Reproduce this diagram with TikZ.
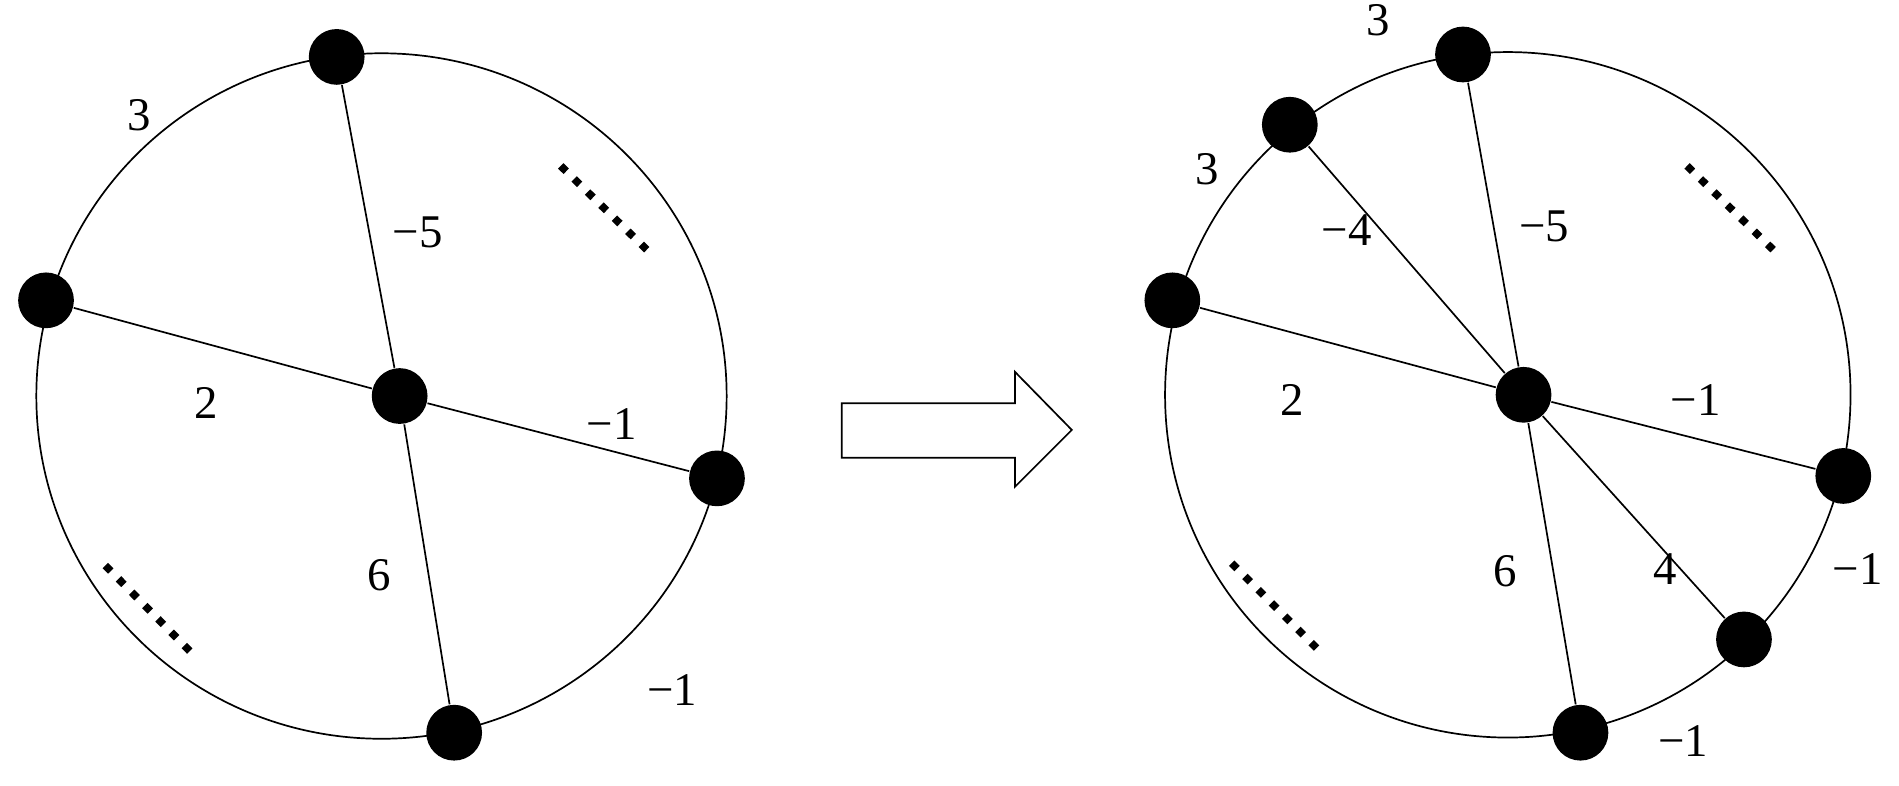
\documentclass[tikz,border=0pt]{standalone}
\usepackage{fontspec}
\setmainfont{Liberation Serif}
\begin{document}
\begin{tikzpicture}[x=0.01cm,y=-0.01cm,
  vtx/.style={circle,fill=black,minimum size=0.46cm,inner sep=0pt},
  lbl/.style={font=\fontsize{11}{13}\selectfont},
  dots/.style={line width=1.8pt,dash pattern=on 1.8pt off 2.6pt},
  edge/.style={line width=0.4pt}]
\useasboundingbox (0,0) rectangle (1568,649);
% left
\draw[edge] (315,327) ellipse [x radius=285, y radius=283];
\node[vtx] (a1) at (278,47) {};
\node[vtx] (a2) at (38,248) {};
\node[vtx] (a0) at (330,327) {};
\node[vtx] (a3) at (592,395) {};
\node[vtx] (a4) at (375,605) {};
\foreach \n in {a1,a2,a3,a4} \draw[edge] (a0) -- (\n);
\node[lbl] (l1) at (115,95) {3};
\node[lbl] (l2) at (345,192) {−5};
\node[lbl] (l3) at (170,333) {2};
\node[lbl] (l4) at (505,350) {−1};
\node[lbl] (l5) at (313,475) {6};
\node[lbl] (l6) at (555,570) {−1};
\coordinate (d1) at (463,137); \coordinate (d2) at (540,212);
\coordinate (d3) at (87,467); \coordinate (d4) at (162,543);
\draw[dots] (d1) -- (d2); \draw[dots] (d3) -- (d4);
% arrow
\draw[edge] (695,333) -- (838,333) -- (838,307) -- (885,355) -- (838,402) -- (838,378) -- (695,378) -- cycle;
% right
\draw[edge] (1245,326) ellipse [x radius=283, y radius=283];
\node[vtx] (b1) at (1208,45) {};
\node[vtx] (b2) at (1065,103) {};
\node[vtx] (b3) at (968,248) {};
\node[vtx] (b0) at (1258,326) {};
\node[vtx] (b4) at (1522,393) {};
\node[vtx] (b5) at (1440,528) {};
\node[vtx] (b6) at (1305,605) {};
\foreach \n in {b1,b2,b3,b4,b5,b6} \draw[edge] (b0) -- (\n);
\node[lbl] (m1) at (1138,17) {3};
\node[lbl] (m2) at (997,140) {3};
\node[lbl] (m3) at (1112,190) {−4};
\node[lbl] (m4) at (1275,187) {−5};
\node[lbl] (m5) at (1067,330) {2};
\node[lbl] (m6) at (1400,330) {−1};
\node[lbl] (m7) at (1534,470) {−1};
\node[lbl] (m8) at (1375,470) {4};
\node[lbl] (m9) at (1243,472) {6};
\node[lbl] (m10) at (1390,612) {−1};
\coordinate (e1) at (1393,137); \coordinate (e2) at (1468,210);
\coordinate (e3) at (1017,465); \coordinate (e4) at (1092,540);
\draw[dots] (e1) -- (e2); \draw[dots] (e3) -- (e4);
\end{tikzpicture}
\end{document}
